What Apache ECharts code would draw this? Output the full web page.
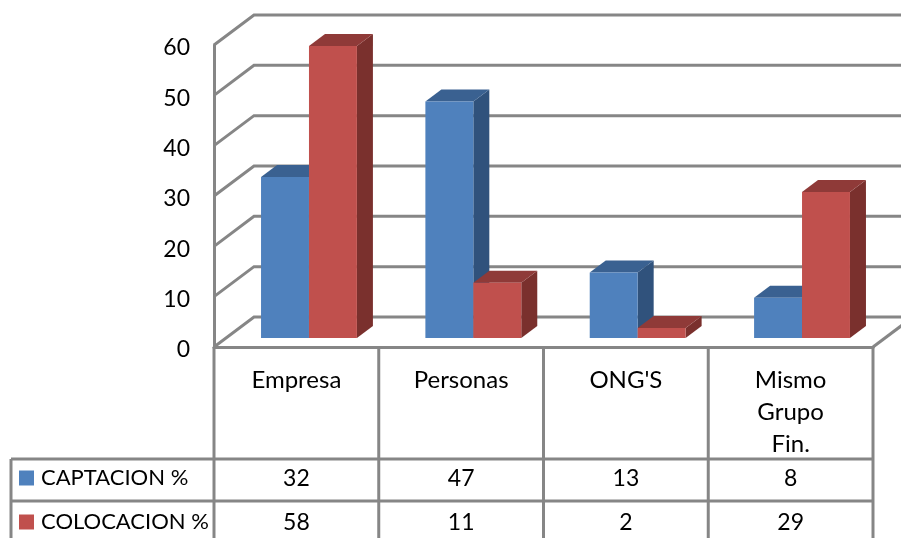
<!DOCTYPE html>
<html>
<head>
<meta charset="utf-8">
<style>html,body{margin:0;padding:0;background:#fff}#chart{width:901px;height:538px}</style>
<script src="https://cdn.jsdelivr.net/npm/echarts@6/dist/echarts.min.js"></script>
</head>
<body>
<div id="chart"></div>
<script>
// Origen y destino de fondos, por tipo de cliente
const categories = ['Empresa', 'Personas', "ONG'S", 'Mismo\nGrupo\nFin.'];
const captacion = [32, 47, 13, 8];
const colocacion = [58, 11, 2, 29];
const yTicks = [0, 10, 20, 30, 40, 50, 60];

const FONT = 'Lato';
const GRID = '#868686';
const WALL_DX = 40, WALL_DY = 30;      // profundidad de las paredes
const BAR_DX = 16, BAR_DY = 12;        // profundidad de cada barra
const FLOOR_INSET = 9;                 // las barras se apoyan dentro del piso
const ROW_LINES = [459, 501];          // filas de la tabla de datos
const TABLE_BOTTOM = 540;
const ROW_TEXT = [479, 523];

// Barra en falsa perspectiva: frente, techo y lateral
function bar3d(side, front, top, shade) {
  return function (params, api) {
    const i = api.value(0), v = api.value(1);
    const w = api.size([1, 0])[0] * 0.291;
    const c = api.coord([i, 0]);
    const t = api.coord([i, v]);
    const split = c[0] + 12.6 - i * 0.4;
    const x0 = side === 0 ? split - w : split;
    const x1 = x0 + w;
    const y0 = c[1] - FLOOR_INSET, y1 = t[1] - FLOOR_INSET;
    const poly = (points, fill) => ({ type: 'polygon', shape: { points }, style: { fill, stroke: null } });
    return {
      type: 'group',
      children: [
        poly([[x1, y0], [x1 + BAR_DX, y0 - BAR_DY], [x1 + BAR_DX, y1 - BAR_DY], [x1, y1]], shade),
        poly([[x0, y1], [x1, y1], [x1 + BAR_DX, y1 - BAR_DY], [x0 + BAR_DX, y1 - BAR_DY]], top),
        poly([[x0, y0], [x1, y0], [x1, y1], [x0, y1]], front)
      ]
    };
  };
}

// Líneas de división: pared lateral más pared del fondo
function wallLine(params, api) {
  const p = api.coord([0, api.value(0)]);
  const cs = params.coordSys;
  const x = cs.x, y = p[1];
  return {
    type: 'polyline',
    shape: { points: [[x, y], [x + WALL_DX, y - WALL_DY], [x + cs.width + WALL_DX, y - WALL_DY]] },
    style: { fill: null, stroke: GRID, lineWidth: 3 }
  };
}

// Tabla de datos bajo el eje: separadores y valores de cada columna
function tableColumn(params, api) {
  const i = api.value(0);
  const cs = params.coordSys;
  const band = api.size([1, 0])[0];
  const cx = api.coord([i, 0])[0];
  const right = cx + band / 2;
  const floorY = cs.y + cs.height;
  const line = (x1, y1, x2, y2) => ({
    type: 'line', shape: { x1, y1, x2, y2 }, style: { stroke: GRID, lineWidth: 3 }
  });
  const cell = (text, y) => ({
    type: 'text',
    style: { text: String(text), x: cx, y, align: 'center', verticalAlign: 'middle', fill: '#000', font: '23px ' + FONT }
  });
  const children = [
    line(right, floorY, right, TABLE_BOTTOM),
    cell(api.value(1), ROW_TEXT[0]),
    cell(api.value(2), ROW_TEXT[1])
  ];
  if (i === 0) {
    children.push(line(cs.x, floorY, cs.x, TABLE_BOTTOM));
    children.push(line(11, ROW_LINES[0], cs.x + cs.width, ROW_LINES[0]));
    children.push(line(11, ROW_LINES[1], cs.x + cs.width, ROW_LINES[1]));
    children.push(line(11, ROW_LINES[0], 11, TABLE_BOTTOM));
    // arista derecha del piso
    children.push(line(cs.x + cs.width, floorY, cs.x + cs.width + WALL_DX, floorY - WALL_DY));
  }
  return { type: 'group', children };
}

const chart = echarts.init(document.getElementById('chart'), null, { renderer: 'canvas' });
chart.setOption({
  animation: false,
  backgroundColor: '#fff',
  grid: { left: 214, right: 28, top: 45, height: 302, containLabel: false },
  legend: {
    orient: 'vertical', left: 19, top: 467, itemWidth: 15, itemHeight: 15, itemGap: 22,
    icon: 'rect', selectedMode: false, padding: 0,
    data: ['CAPTACION %', 'COLOCACION %'],
    textStyle: { color: '#000', fontFamily: FONT, fontSize: 22, padding: [0, 0, 0, 2] }
  },
  xAxis: {
    type: 'category', data: categories,
    axisLine: { show: true, lineStyle: { color: GRID, width: 3 } },
    axisTick: { show: false },
    axisLabel: {
      color: '#000', fontFamily: FONT, fontSize: 24, lineHeight: 32, margin: 17,
      interval: 0, verticalAlign: 'top'
    }
  },
  yAxis: {
    type: 'value', min: 0, max: 60, interval: 10,
    splitLine: { show: false },
    axisTick: { show: false },
    axisLine: { show: true, lineStyle: { color: GRID, width: 3 } },
    axisLabel: { color: '#000', fontFamily: FONT, fontSize: 23, margin: 24, lineHeight: 6, verticalAlign: 'top' }
  },
  series: [
    {
      type: 'custom', name: 'paredes', silent: true, z: 1,
      data: yTicks.map(v => [v]), encode: { y: 0 }, renderItem: wallLine, clip: false
    },
    {
      type: 'custom', name: 'CAPTACION %', z: 2, clip: false,
      itemStyle: { color: '#4F81BD' },
      data: captacion.map((v, i) => [i, v]), encode: { x: 0, y: 1 },
      renderItem: bar3d(0, '#4F81BD', '#3A6191', '#30527C')
    },
    {
      type: 'custom', name: 'COLOCACION %', z: 3, clip: false,
      itemStyle: { color: '#C0504D' },
      data: colocacion.map((v, i) => [i, v]), encode: { x: 0, y: 1 },
      renderItem: bar3d(1, '#C0504D', '#8F3A38', '#7A302D')
    },
    {
      type: 'custom', name: 'tabla', silent: true, z: 4, clip: false,
      data: categories.map((c, i) => [i, captacion[i], colocacion[i]]),
      encode: { x: 0 }, renderItem: tableColumn
    }
  ]
});
</script>
</body>
</html>
